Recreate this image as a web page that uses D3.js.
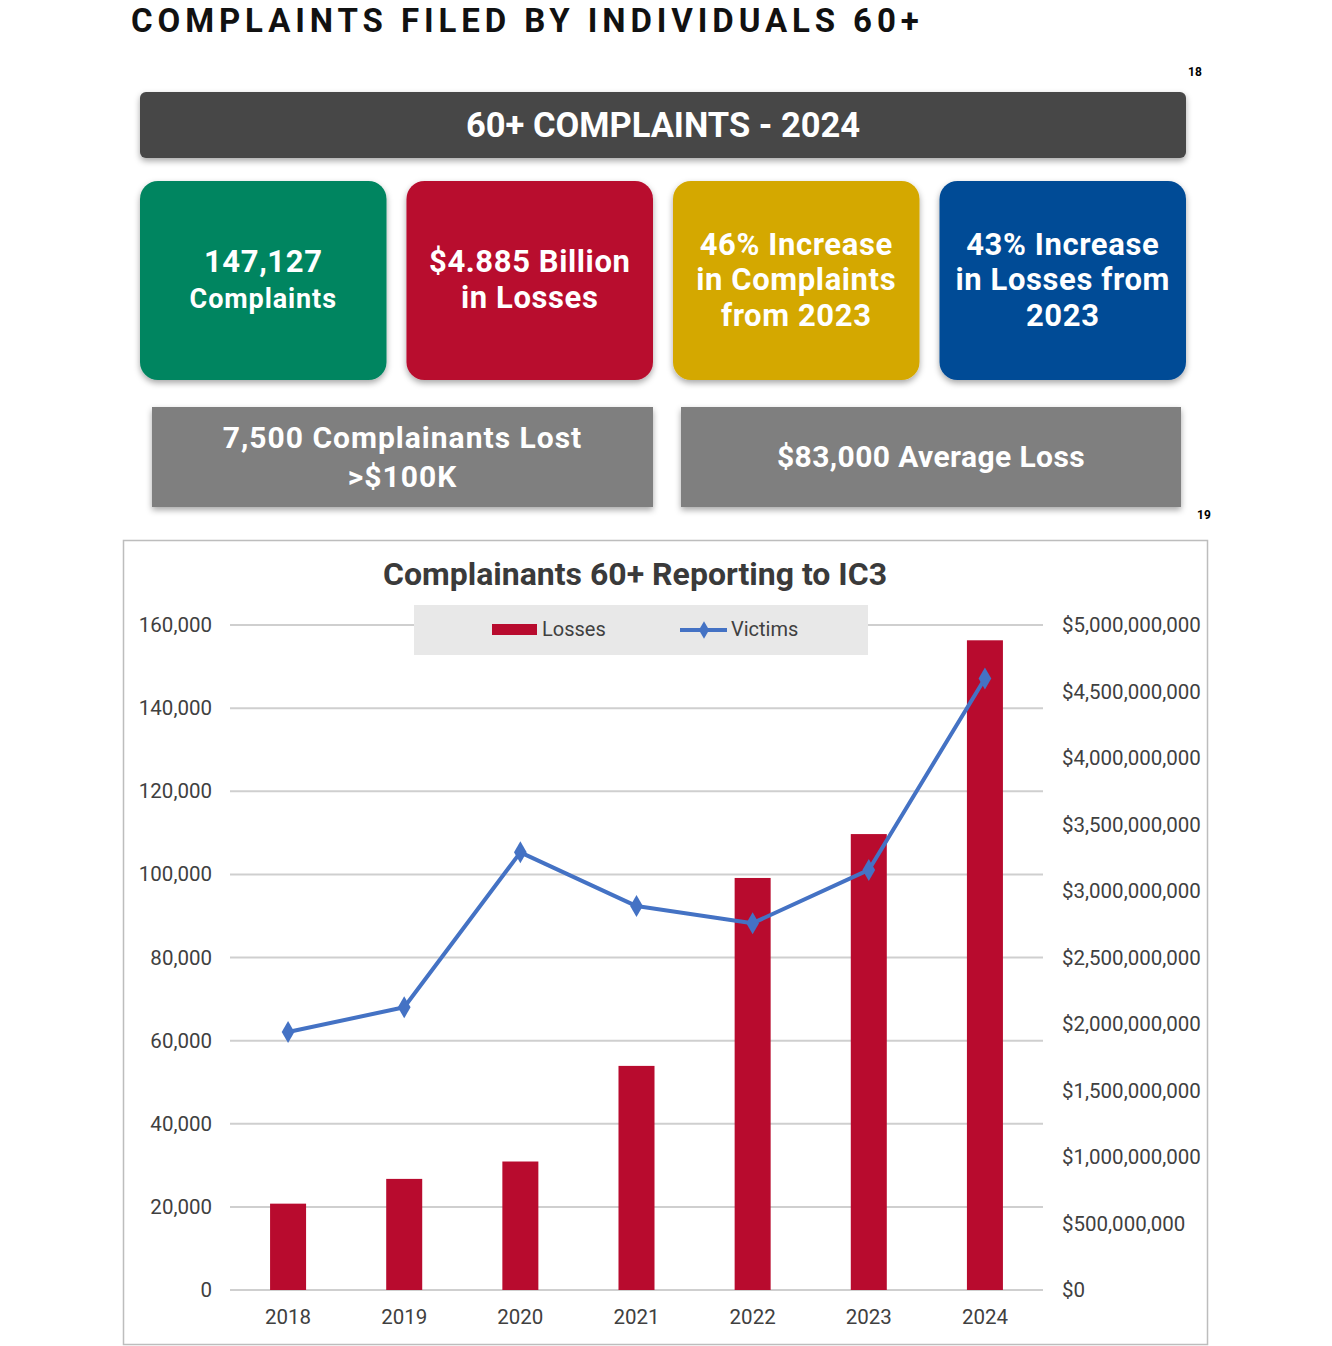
<!DOCTYPE html>
<html>
<head>
<meta charset="utf-8">
<script src="https://cdn.jsdelivr.net/npm/d3@7"></script>
<style>
  body { margin: 0; background: #fff; }
  svg { display: block; font-family: Roboto, "Liberation Sans", sans-serif; }
</style>
</head>
<body>
<svg width="1332" height="1346"></svg>
<script>
// data
const years = ['2018', '2019', '2020', '2021', '2022', '2023', '2024'];
const losses = [649.2e6, 835.4e6, 966.1e6, 1685e6, 3098e6, 3428e6, 4885e6];
const victims = [62085, 68013, 105301, 92371, 88262, 101068, 147127];
const leftTicks = [0, 20000, 40000, 60000, 80000, 100000, 120000, 140000, 160000];
const rightTicks = [0, 5e8, 1e9, 1.5e9, 2e9, 2.5e9, 3e9, 3.5e9, 4e9, 4.5e9, 5e9];

const statLines = [
  ['147,127', 'Complaints'],
  ['$4.885 Billion', 'in Losses'],
  ['46% Increase', 'in Complaints', 'from 2023'],
  ['43% Increase', 'in Losses from', '2023']
];
const statColors = ['#008560', '#b80b2e', '#d4a800', '#004b96'];
const greyLines = [
  ['7,500 Complainants Lost', '>$100K'],
  ['$83,000 Average Loss']
];

const svg = d3.select('svg');

const defs = svg.append('defs');
const f = defs.append('filter').attr('id', 'shadow')
  .attr('x', '-5%').attr('y', '-10%').attr('width', '110%').attr('height', '130%');
f.append('feDropShadow')
  .attr('dx', 0).attr('dy', 3).attr('stdDeviation', 3)
  .attr('flood-color', '#000').attr('flood-opacity', 0.35);

// page heading
svg.append('text')
  .attr('x', 131).attr('y', 32)
  .attr('font-size', 33).attr('font-weight', 700)
  .attr('letter-spacing', 4.9)
  .attr('fill', '#111')
  .text('COMPLAINTS FILED BY INDIVIDUALS 60+');

svg.append('text').attr('x', 1188).attr('y', 76)
  .attr('font-size', 12).attr('font-weight', 700).text('18');
svg.append('text').attr('x', 1197).attr('y', 519)
  .attr('font-size', 12).attr('font-weight', 700).text('19');

// dark banner
svg.append('rect')
  .attr('x', 140).attr('y', 92).attr('width', 1046).attr('height', 66)
  .attr('rx', 6).attr('fill', '#464646').attr('filter', 'url(#shadow)');
svg.append('text')
  .attr('x', 663).attr('y', 137).attr('text-anchor', 'middle')
  .attr('font-size', 34.5).attr('font-weight', 700).attr('fill', '#fff')
  .text('60+ COMPLAINTS - 2024');

// coloured stat boxes
const boxX = d3.scaleBand().domain(d3.range(4)).range([140, 1186]).paddingInner(0.075);
statLines.forEach((lines, i) => {
  const x0 = boxX(i), w = boxX.bandwidth();
  svg.append('rect')
    .attr('x', x0).attr('y', 181).attr('width', w).attr('height', 199)
    .attr('rx', 18).attr('fill', statColors[i]).attr('filter', 'url(#shadow)');
  const lh = 35.5;
  const cy = 280;
  const t = svg.append('text').attr('text-anchor', 'middle')
    .attr('fill', '#fff').attr('font-weight', 700);
  lines.forEach((s, j) => {
    const small = i === 0 && j === 1;
    t.append('tspan')
      .attr('x', x0 + w / 2)
      .attr('y', cy + (j - (lines.length - 1) / 2) * lh + 10)
      .attr('font-size', small ? 27 : 31)
      .attr('letter-spacing', small ? 0.9 : 0.6)
      .text(s);
  });
});

// grey boxes
const greyBoxes = [[152, 501], [681, 500]];
greyLines.forEach((lines, i) => {
  const [x0, w] = greyBoxes[i];
  svg.append('rect')
    .attr('x', x0).attr('y', 407).attr('width', w).attr('height', 100)
    .attr('fill', '#7f7f7f').attr('filter', 'url(#shadow)');
  const t = svg.append('text').attr('text-anchor', 'middle')
    .attr('fill', '#fff').attr('font-weight', 700).attr('font-size', 30)
    .attr('letter-spacing', i === 0 ? 1 : 0.4);
  lines.forEach((s, j) => {
    t.append('tspan')
      .attr('x', x0 + w / 2)
      .attr('y', 457 + (j - (lines.length - 1) / 2) * 39 + 10)
      .text(s);
  });
});

// chart frame
svg.append('rect')
  .attr('x', 123.5).attr('y', 540.5).attr('width', 1084).attr('height', 804)
  .attr('fill', '#fff').attr('stroke', '#bdbdbd').attr('stroke-width', 1.5);

svg.append('text')
  .attr('x', 635).attr('y', 585).attr('text-anchor', 'middle')
  .attr('font-size', 32).attr('font-weight', 700).attr('fill', '#3a3a3a')
  .text('Complainants 60+ Reporting to IC3');

const x = d3.scaleBand().domain(years).range([230, 1043]);
const yL = d3.scaleLinear().domain([0, 160000]).range([1290, 625]);
const yR = d3.scaleLinear().domain([0, 5e9]).range([1290, 625]);
const barW = x.bandwidth() * 0.31;

// gridlines
svg.append('g').selectAll('line').data(leftTicks).join('line')
  .attr('x1', 230).attr('x2', 1043)
  .attr('y1', d => yL(d)).attr('y2', d => yL(d))
  .attr('stroke', '#cfcfcf').attr('stroke-width', 2);

const tickStyle = sel => sel.attr('font-size', 20.5).attr('fill', '#404040');

svg.append('g').selectAll('text').data(leftTicks).join('text')
  .attr('x', 212).attr('y', d => yL(d) + 7).attr('text-anchor', 'end')
  .call(tickStyle).text(d3.format(','));

svg.append('g').selectAll('text').data(rightTicks).join('text')
  .attr('x', 1062).attr('y', d => yR(d) + 7)
  .call(tickStyle).text(d => '$' + d3.format(',')(d));

svg.append('g').selectAll('text').data(years).join('text')
  .attr('x', d => x(d) + x.bandwidth() / 2).attr('y', 1324).attr('text-anchor', 'middle')
  .call(tickStyle).text(d => d);

// legend
svg.append('rect').attr('x', 414).attr('y', 605).attr('width', 454).attr('height', 50)
  .attr('fill', '#e8e8e8');

// bars
svg.append('g').selectAll('rect').data(years).join('rect')
  .attr('x', d => x(d) + x.bandwidth() / 2 - barW / 2)
  .attr('y', (d, i) => yR(losses[i]))
  .attr('width', barW)
  .attr('height', (d, i) => yR(0) - yR(losses[i]))
  .attr('fill', '#b80b2e');

// victims line
const line = d3.line()
  .x((d, i) => x(years[i]) + x.bandwidth() / 2)
  .y(d => yL(d));
svg.append('path').datum(victims)
  .attr('d', line).attr('fill', 'none')
  .attr('stroke', '#4472c4').attr('stroke-width', 4).attr('stroke-linejoin', 'round');

const diamond = d3.symbol().type(d3.symbolDiamond).size(140);
svg.append('g').selectAll('path').data(victims).join('path')
  .attr('transform', (d, i) => `translate(${x(years[i]) + x.bandwidth() / 2},${yL(d)})`)
  .attr('d', diamond).attr('fill', '#4472c4');

// legend items
svg.append('rect').attr('x', 492).attr('y', 624).attr('width', 45).attr('height', 11)
  .attr('fill', '#b80b2e');
svg.append('text').attr('x', 542).attr('y', 636).call(tickStyle).attr('font-size', 20).text('Losses');
svg.append('line').attr('x1', 680).attr('x2', 727).attr('y1', 630).attr('y2', 630)
  .attr('stroke', '#4472c4').attr('stroke-width', 4);
svg.append('path').attr('transform', 'translate(704,630)')
  .attr('d', d3.symbol().type(d3.symbolDiamond).size(90)).attr('fill', '#4472c4');
svg.append('text').attr('x', 731).attr('y', 636).call(tickStyle).attr('font-size', 20).text('Victims');
</script>
</body>
</html>
